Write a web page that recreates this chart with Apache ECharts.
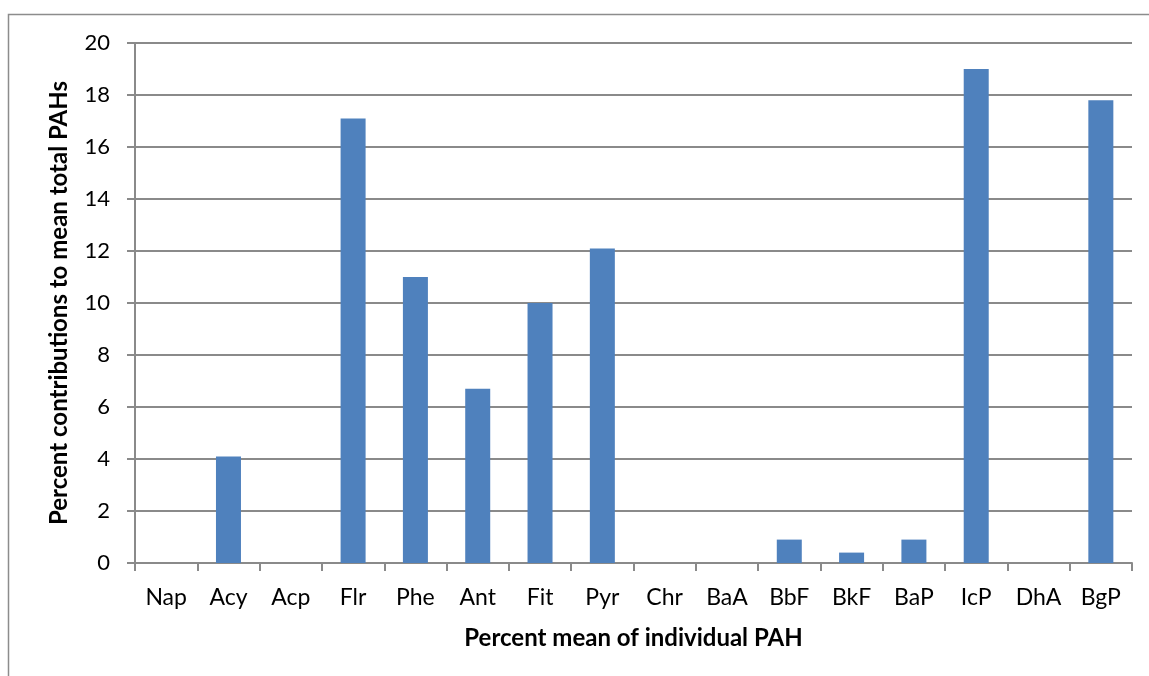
<!DOCTYPE html>
<html>
<head>
<meta charset="utf-8">
<script src="https://cdn.jsdelivr.net/npm/echarts@6/dist/echarts.min.js"></script>
<style>
  html, body { margin: 0; padding: 0; background: #fff; }
  #chart { width: 1149px; height: 676px; }
</style>
</head>
<body>
<div id="chart"></div>
<script>
// PAH compounds along the category axis
const categories = ['Nap', 'Acy', 'Acp', 'Flr', 'Phe', 'Ant', 'Fit', 'Pyr', 'Chr', 'BaA', 'BbF', 'BkF', 'BaP', 'IcP', 'DhA', 'BgP'];
// Percent contribution of each PAH to the mean total
const percentValues = [0, 4.1, 0, 17.1, 11.0, 6.7, 10.0, 12.1, 0, 0, 0.9, 0.4, 0.9, 19.0, 0, 17.8];

const FONT = 'Lato, "Open Sans", sans-serif';
const GRID_GRAY = '#8a8a8a';

const chart = echarts.init(document.getElementById('chart'), null, { renderer: 'canvas' });

chart.setOption({
  animation: false,
  backgroundColor: '#ffffff',
  graphic: [{
    type: 'rect',
    shape: { x: 8.5, y: 14.5, width: 1200, height: 700 },
    style: { fill: 'none', stroke: '#8c8c8c', lineWidth: 1.5 },
    silent: true
  }],
  grid: { left: 135, right: 17, top: 43, bottom: 113 },
  xAxis: {
    type: 'category',
    data: categories,
    boundaryGap: true,
    name: 'Percent mean of individual PAH',
    nameLocation: 'middle',
    nameGap: 63,
    nameTextStyle: { fontFamily: FONT, fontWeight: 'bold', fontSize: 24, color: '#000' },
    axisLine: { show: true, lineStyle: { color: GRID_GRAY, width: 2 } },
    axisTick: { show: true, length: 8, lineStyle: { color: GRID_GRAY, width: 2 } },
    axisLabel: { fontFamily: FONT, fontSize: 23, color: '#000', margin: 23 },
    splitLine: { show: false }
  },
  yAxis: {
    type: 'value',
    min: 0,
    max: 20,
    interval: 2,
    name: 'Percent contributions to mean total PAHs',
    nameLocation: 'middle',
    nameGap: 64,
    nameRotate: 90,
    nameTextStyle: { fontFamily: FONT, fontWeight: 'bold', fontSize: 24, color: '#000' },
    axisLine: { show: true, lineStyle: { color: GRID_GRAY, width: 2 } },
    axisTick: { show: true, length: 8, lineStyle: { color: GRID_GRAY, width: 2 } },
    axisLabel: { fontFamily: FONT, fontSize: 22, color: '#000', margin: 25 },
    splitLine: { show: true, lineStyle: { color: GRID_GRAY, width: 2 } }
  },
  series: [{
    type: 'bar',
    data: percentValues,
    barWidth: 25,
    itemStyle: { color: '#4f81bd' }
  }]
});
</script>
</body>
</html>
